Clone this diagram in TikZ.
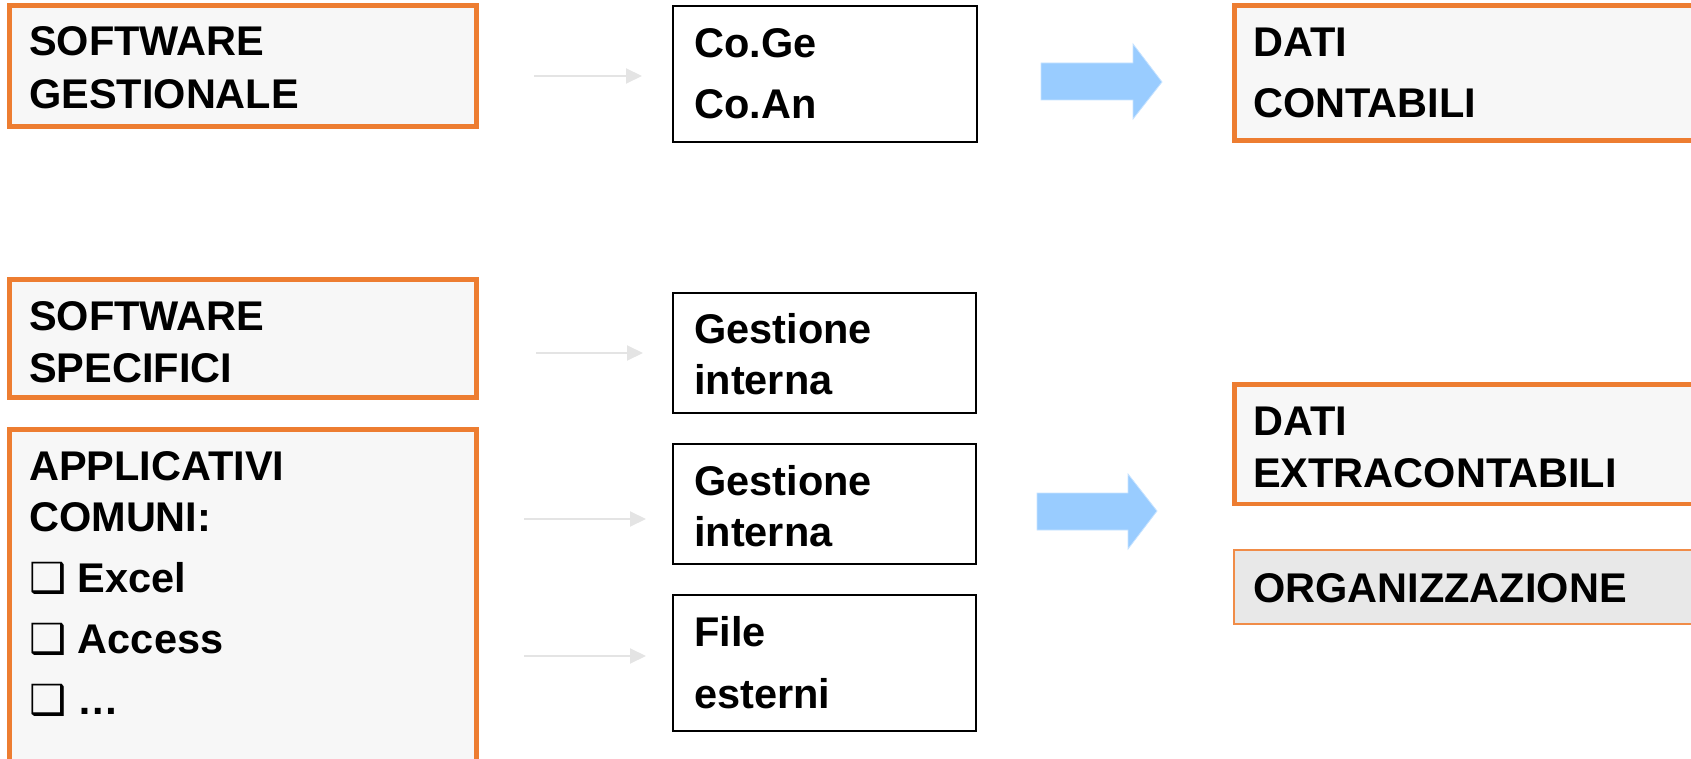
\documentclass[tikz,border=0pt]{standalone}
\usepackage{fontspec}
\setmainfont{Liberation Sans}
\newfontfamily\boxglyph{DejaVu Sans}
\usetikzlibrary{arrows.meta}

\definecolor{boxorange}{HTML}{ED7D31}
\definecolor{paleorange}{HTML}{F08C48}
\definecolor{panelgray}{HTML}{F7F7F7}
\definecolor{orggray}{HTML}{E8E8E8}
\definecolor{arrowgray}{HTML}{E4E4E4}
\definecolor{blockblue}{HTML}{99CCFF}

\tikzset{
  databox/.style={draw=boxorange, line width=4.7pt, fill=panelgray, rectangle,
    anchor=north west, inner sep=0pt, outer sep=0pt},
  plainbox/.style={draw=black, line width=1.8pt, fill=white, rectangle,
    anchor=north west, inner sep=0pt, outer sep=0pt},
  boxtext/.style={anchor=base west, align=left, inner sep=0pt,
    font=\bfseries\fontsize{41.5}{52}\selectfont},
  thinarrow/.style={draw=arrowgray, line width=2pt, -{Triangle[length=16pt,width=15pt]}},
  blockarrow/.style={fill=blockblue, draw=blockblue!55!white, line width=0.8pt},
}

\begin{document}
\begin{tikzpicture}[x=1pt,y=-1pt]
    \useasboundingbox (0,0) rectangle (1691,759);
    \clip (0,0) rectangle (1691,759);

    % Left column: sources (text placed at the baseline of its last line)
    \node[databox, minimum width=467pt, minimum height=121pt] (gest) at (9.5,5.5) {};
    \node[boxtext] (gesttext) at (29,109) {SOFTWARE\\[1pt]GESTIONALE};

    \node[databox, minimum width=467pt, minimum height=118pt] (spec) at (9.5,279.5) {};
    \node[boxtext] (spectext) at (29,382) {SOFTWARE\\SPECIFICI};

    \node[databox, minimum width=467pt, minimum height=380pt] (appl) at (9.5,429.5) {};
    \node[boxtext] (appltext) at (29,714)
        {APPLICATIVI\\[-1pt]COMUNI:\\[9pt]{\boxglyph ❑} Excel\\[9pt]{\boxglyph ❑} Access\\[9pt]{\boxglyph ❑} …};

    % Middle column
    \node[plainbox, minimum width=304pt, minimum height=136pt] (coge) at (673,6) {};
    \node[boxtext] (cogetext) at (694,119) {Co.Ge\\[9pt]Co.An};

    \node[plainbox, minimum width=303pt, minimum height=120pt] (intone) at (673,293) {};
    \node[boxtext] (intonetext) at (694,394) {Gestione\\[-1pt]interna};

    \node[plainbox, minimum width=303pt, minimum height=120pt] (inttwo) at (673,444) {};
    \node[boxtext] (inttwotext) at (694,546) {Gestione\\[-1pt]interna};

    \node[plainbox, minimum width=303pt, minimum height=136pt] (ext) at (673,595) {};
    \node[boxtext] (exttext) at (694,708) {File\\[10pt]esterni};

    % Right column: data
    \node[databox, minimum width=500pt, minimum height=135pt] (cont) at (1234.5,5.5) {};
    \node[boxtext] (conttext) at (1253,118) {DATI\\[9pt]CONTABILI};

    \node[databox, minimum width=500pt, minimum height=119.5pt] (extra) at (1234.5,384.5) {};
    \node[boxtext] (extratext) at (1253,487) {DATI\\EXTRACONTABILI};

    \node[databox, draw=paleorange, line width=2pt, fill=orggray,
          minimum width=500pt, minimum height=74pt] (org) at (1234,550) {};
    \node[boxtext] (orgtext) at (1253,602) {ORGANIZZAZIONE};

    % Thin arrows into the middle column
    \coordinate (ingest) at (534,76);
    \coordinate (inspec) at (536,353);
    \coordinate (inappone) at (524,519);
    \coordinate (inapptwo) at (524,656);
    \draw[thinarrow, shorten >=31pt] (ingest) -- (ingest -| coge.west);
    \draw[thinarrow, shorten >=30pt] (inspec) -- (inspec -| intone.west);
    \draw[thinarrow, shorten >=27pt] (inappone) -- (inappone -| inttwo.west);
    \draw[thinarrow, shorten >=27pt] (inapptwo) -- (inapptwo -| ext.west);

    % Block arrows to the data
    \filldraw[blockarrow] (1041,63) -- (1133,63) -- (1133,44) -- (1162,82)
        -- (1133,119) -- (1133,100) -- (1041,100) -- cycle;
    \filldraw[blockarrow] (1037,493) -- (1128,493) -- (1128,474) -- (1157,511)
        -- (1128,549) -- (1128,530) -- (1037,530) -- cycle;

\end{tikzpicture}
\end{document}
